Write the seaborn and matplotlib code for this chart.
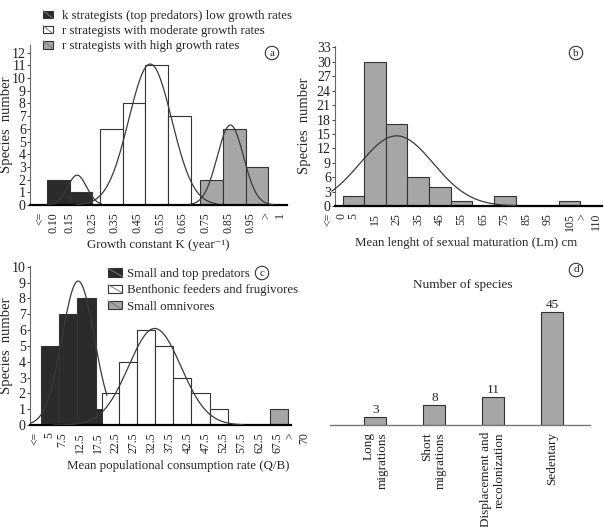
import numpy as np
import matplotlib.pyplot as plt
import seaborn as sns
from matplotlib.patches import Rectangle, Patch
from matplotlib.lines import Line2D
from matplotlib.legend_handler import HandlerPatch

# ---- data ----
# (a) growth constant K (bin edges in K units, counts)
k_dark_edges = [0.05, 0.15, 0.25]
k_dark_counts = [2, 1]
k_white_edges = [0.285, 0.385, 0.485, 0.585, 0.685]
k_white_counts = [6, 8, 11, 7]
k_grey_edges = [0.727, 0.827, 0.927, 1.027]
k_grey_counts = [2, 6, 3]
k_ticks = [0.05, 0.15, 0.25, 0.35, 0.45, 0.55, 0.65, 0.75, 0.85, 0.95, 1.05]
k_tick_labels = ["<=\n0.10", "0.15", "0.25", "0.35", "0.45", "0.55",
                 "0.65", "0.75", "0.85", "0.95", ">\n1"]
# fitted normal curves: mean, sd, peak, from, to
k_fits = [(0.183, 0.042, 2.35, 0.05, 0.29),
          (0.506, 0.095, 11.1, 0.18, 0.80),
          (0.860, 0.058, 6.3, 0.68, 1.05)]
legend_a = ["k strategists (top predators) low growth rates",
            "r strategists with moderate growth rates",
            "r strategists with high growth rates"]

# (b) mean length of sexual maturation (cm)
lm_edges = [0, 10, 20, 30, 40, 50, 60, 70, 80, 90, 100, 110]
lm_counts = [2, 30, 17, 6, 4, 1, 0, 2, 0, 0, 1]
lm_ticks = [-3.5, 5, 15, 25, 35, 45, 55, 65, 75, 85, 95, 105, 114]
lm_tick_labels = ["<=\n0", "5", "15", "25", "35", "45", "55", "65",
                  "75", "85", "95", "105", ">\n110"]
lm_fit = (25, 17, 14.6, -5, 80)

# (c) mean populational consumption rate Q/B
qb_dark_edges = [1.7, 6.7, 11.7, 16.9, 18.6]
qb_dark_counts = [5, 7, 8, 1]
qb_white_edges = [18.6, 23.4, 28.4, 33.4, 38.4, 43.5, 48.6, 53.6]
qb_white_counts = [2, 4, 6, 5, 3, 2, 1]
qb_grey_edges = [65.3, 70.3]
qb_grey_counts = [1]
qb_ticks = [2, 7.5, 12.5, 17.5, 22.5, 27.5, 32.5, 37.5, 42.5, 47.5,
            52.5, 57.5, 62.5, 67.5, 73]
qb_tick_labels = ["<=\n5", "7.5", "12.5", "17.5", "22.5", "27.5", "32.5",
                  "37.5", "42.5", "47.5", "52.5", "57.5", "62.5", "67.5", ">\n70"]
qb_fits = [(12.0, 4.5, 9.1, -1.4, 20.0),
           (33.3, 7.3, 6.1, 5.0, 58.0)]
legend_c = ["Small and top predators",
            "Benthonic feeders and frugivores",
            "Small omnivores"]

# (d) movement behaviour
move_labels = ["Long\nmigrations", "Short\nmigrations",
               "Displacement and\nrecolonization", "Sedentary"]
move_counts = [3, 8, 11, 45]

DARK = "#2b2b2b"
GREY = "#a6a6a6"
EDGE = "#333333"

sns.set_theme(style="ticks")
plt.rcParams['font.family'] = ['Liberation Serif', 'DejaVu Serif']

W, H = 604, 527
fig = plt.figure(figsize=(W / 100, H / 100), dpi=100)


def px_axes(l, t, r, b):
    return fig.add_axes([l / W, 1 - b / H, (r - l) / W, (b - t) / H])


def hist_group(ax, edges, counts, color):
    centers = [(a + b) / 2 for a, b in zip(edges[:-1], edges[1:])]
    sns.histplot(x=centers, weights=counts, bins=edges, color=color,
                 edgecolor=EDGE, linewidth=0.8, alpha=1, ax=ax, zorder=2)


def fit_curve(ax, mean, sd, peak, lo, hi, clip=True):
    xs = np.linspace(lo, hi, 200)
    ys = peak * np.exp(-0.5 * ((xs - mean) / sd) ** 2)
    sns.lineplot(x=xs, y=ys, ax=ax, color="#3a3a3a", lw=0.9, zorder=3)
    ax.lines[-1].set_clip_on(clip)


def style_hist_axes(ax):
    sns.despine(ax=ax)
    ax.spines['left'].set_color('#666666')
    ax.spines['left'].set_linewidth(0.8)
    ax.spines['bottom'].set_color('black')
    ax.spines['bottom'].set_linewidth(1.6)
    ax.tick_params(axis='y', length=2, width=0.6, pad=1, labelsize=10, colors='#222222')
    ax.tick_params(axis='x', length=0, pad=5, labelsize=8.5, colors='#222222')
    ax.set_ylabel("Species  number", fontsize=10.5)
    ax.set_xlabel("")


class BoxHandler(HandlerPatch):
    def create_artists(self, legend, orig_handle, xdescent, ydescent,
                       width, height, fontsize, trans):
        r = Rectangle((-xdescent, -ydescent), width, height,
                      facecolor=orig_handle.get_facecolor(), edgecolor=EDGE,
                      lw=0.8, transform=trans)
        ln = Line2D([-xdescent, -xdescent + width],
                    [-ydescent + height, -ydescent],
                    color="#777777", lw=0.7, transform=trans)
        return [r, ln]


def letter(x, y, s):
    fig.text(x / W, 1 - y / H, s, ha='center', va='center', fontsize=8,
             bbox=dict(boxstyle='circle,pad=0.2', fc='white', ec=EDGE, lw=0.8))


# ---- (a) ----
ax_a = px_axes(30, 45, 287, 205)
hist_group(ax_a, k_dark_edges, k_dark_counts, DARK)
hist_group(ax_a, k_white_edges, k_white_counts, "white")
hist_group(ax_a, k_grey_edges, k_grey_counts, GREY)
for f in k_fits:
    fit_curve(ax_a, *f)
ax_a.set_xlim(-0.025, 1.11)
ax_a.set_ylim(0, 12.6)
ax_a.set_yticks(range(0, 13))
ax_a.set_xticks(k_ticks)
ax_a.set_xticklabels(k_tick_labels, rotation=90, va='top', ha='center',
                     multialignment='right')
style_hist_axes(ax_a)
ax_a.set_xlabel("Growth constant K (year\u207b\u00b9)", fontsize=9.3)
ax_a.xaxis.set_label_coords(0.5, -0.215)
ax_a.yaxis.set_label_coords(-0.068, 0.5)
fig.legend([Patch(fc=DARK), Patch(fc="white"), Patch(fc=GREY)], legend_a,
           handler_map={Patch: BoxHandler()}, loc='upper left',
           bbox_to_anchor=(43 / W, 1 - 10 / H), frameon=False, fontsize=9.3,
           handlelength=0.75, handleheight=0.55, handletextpad=0.7,
           labelspacing=0.24, borderpad=0, borderaxespad=0)
letter(272, 53, "a")

# ---- (b) ----
ax_b = px_axes(335, 46, 602, 206)
hist_group(ax_b, lm_edges, lm_counts, GREY)
fit_curve(ax_b, *lm_fit, clip=False)
ax_b.set_xlim(-3.5, 120)
ax_b.set_ylim(0, 33.3)
ax_b.set_yticks(range(0, 34, 3))
ax_b.set_xticks(lm_ticks)
ax_b.set_xticklabels(lm_tick_labels, rotation=90, va='top', ha='center',
                     multialignment='right')
style_hist_axes(ax_b)
ax_b.set_xlabel("Mean lenght of sexual maturation (Lm) cm", fontsize=9.3)
ax_b.xaxis.set_label_coords(0.49, -0.195)
ax_b.yaxis.set_label_coords(-0.09, 0.5)
letter(576, 53, "b")

# ---- (c) ----
ax_c = px_axes(30, 266, 301, 425)
hist_group(ax_c, qb_dark_edges, qb_dark_counts, DARK)
hist_group(ax_c, qb_white_edges, qb_white_counts, "white")
hist_group(ax_c, qb_grey_edges, qb_grey_counts, GREY)
for f in qb_fits:
    fit_curve(ax_c, *f)
ax_c.set_xlim(-1.4, 74)
ax_c.set_ylim(0, 10.05)
ax_c.set_yticks(range(0, 11))
ax_c.set_xticks(qb_ticks)
ax_c.set_xticklabels(qb_tick_labels, rotation=90, va='top', ha='center',
                     multialignment='right')
style_hist_axes(ax_c)
ax_c.spines['bottom'].set_bounds(-1.4, 71.3)
ax_c.set_xlabel("Mean populational consumption rate (Q/B)", fontsize=9.3)
ax_c.xaxis.set_label_coords(0.547, -0.22)
ax_c.yaxis.set_label_coords(-0.064, 0.5)
fig.legend([Patch(fc=DARK), Patch(fc="white"), Patch(fc=GREY)], legend_c,
           handler_map={Patch: BoxHandler()}, loc='upper left',
           bbox_to_anchor=(108 / W, 1 - 268 / H), frameon=False, fontsize=9.3,
           handlelength=1.1, handleheight=0.6, handletextpad=0.4,
           labelspacing=0.33, borderpad=0, borderaxespad=0)
letter(262, 273, "c")

# ---- (d) ----
ax_d = px_axes(330, 300, 590, 425)
sns.barplot(x=move_labels, y=move_counts, color=GREY, edgecolor=EDGE,
            linewidth=0.8, width=0.376, saturation=1, ax=ax_d)
ax_d.bar_label(ax_d.containers[0], padding=1, fontsize=9.5)
ax_d.set_xlim(-0.77, 3.64)
ax_d.set_ylim(0, 49.8)
sns.despine(ax=ax_d, left=True)
ax_d.spines['bottom'].set_color('#777777')
ax_d.spines['bottom'].set_linewidth(1.0)
ax_d.set_yticks([])
ax_d.set_ylabel("")
ax_d.tick_params(axis='x', length=0, pad=5, labelsize=9.5, colors='#222222')
ax_d.set_xticks(range(len(move_labels)))
ax_d.set_xticklabels(move_labels, rotation=90, va='top', ha='center',
                     multialignment='right')
fig.text(463 / W, 1 - 285 / H, "Number of species", ha='center', va='center',
         fontsize=9.5)
letter(576, 270, "d")

fig.savefig("out.png", dpi=100)
